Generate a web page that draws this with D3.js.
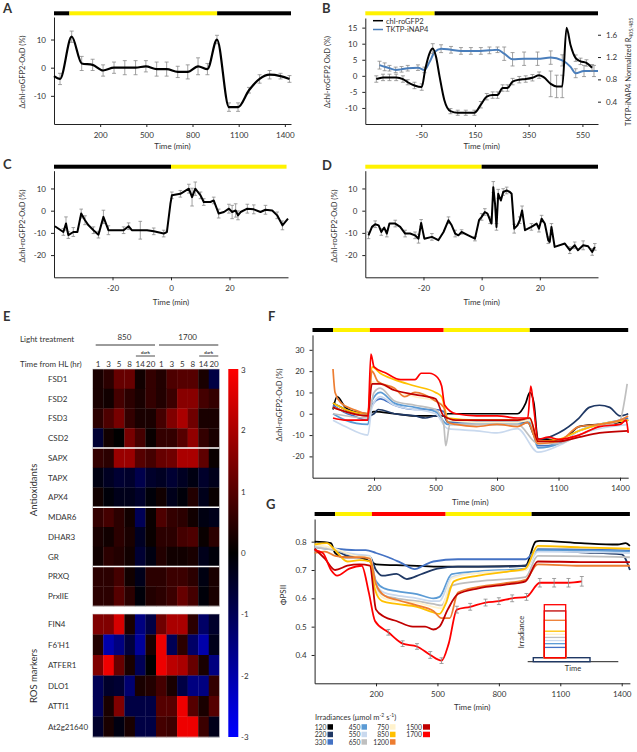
<!DOCTYPE html>
<html><head><meta charset="utf-8">
<script src="https://cdn.jsdelivr.net/npm/d3@7"></script>
<style>
body{margin:0;background:#fff}
text{font-family:Lato,"Open Sans","Liberation Sans",sans-serif;fill:#333}
</style></head>
<body><svg id="c" width="637" height="752"></svg>
<script>
// ---------------- DATA ----------------
// light schedules: [start, end, kind]  k=dark, y=light, r=high light
const lightA = [[-100,0,"k"],[0,960,"y"],[960,1440,"k"]];
const lightB = [[-258,0,"y"],[0,608,"k"]];
const lightC = [[-40,0,"k"],[0,39.5,"y"]];
const lightD = [[-40,0,"y"],[0,40,"k"]];
const lightFG = [[-100,0,"k"],[0,180,"y"],[180,540,"r"],[540,960,"y"],[960,1440,"k"]];

// Panel A
const aTime = [-100,-61,15,80,151,219,290,360,430,497,567,632,704,769,836,897,959,1037,1096,1167,1236,1301,1372,1430];
const aVal  = [-3,-4,11,1.5,1,-1,0,0,0,0.5,-0.5,-0.5,-1.5,-1.5,0.5,-0.5,10,-14,-14,-8,-4,-2.5,-3,-4];
const aErr  = [0,2,2,2.5,2,2,2,2.5,2.5,2,2.5,2.5,2,2.5,3,2,1.5,1.5,1.5,1,1.5,1.5,1,1.2];

// Panel B – chl-roGFP2 (left axis)
const bTime = [-217,-192,-168,-143,-118,-100,-75,-48,-35,-19,-7,5,18,36,59,86,116,148,172,194,216,234,253,271,290,315,339,364,389,407,432,454,475,491,506,525,543,565,586];
const bVal  = [-1,-0.5,-0.5,-0.5,-1,-2,-3,-3.5,2,7,8.5,6,0,-7.5,-11,-11.5,-11.5,-11.5,-9,-6.5,-6,-6,-3.8,-3.8,-1.8,-1.2,-1,-0.6,0.2,-0.5,-2.5,-3.3,-3.3,15,9.5,5.5,4.5,4,2.5];
const bErr  = [1,1,1,1,1,0.8,1,1,0,0,1.5,0,0,0,0.8,0.8,0.8,0.8,1,1,1,1,1,1,1,1,1,1,1,0,4,3.5,3.5,0,0,1,1,1,1];
// Panel B – TKTP-iNAP4 (right axis)
const nTime = [-205,-186,-168,-145,-123,-100,-62,-38,-19,0,24,61,98,135,172,204,234,259,290,333,383,432,475,506,525,556,593,608];
const nVal  = [1.055,1.025,1.0,0.97,0.98,1.0,1.01,0.97,1.11,1.29,1.35,1.33,1.31,1.31,1.31,1.32,1.33,1.26,1.16,1.17,1.17,1.19,1.14,1.025,0.91,0.95,0.95,0.95];
const nErr  = [0.07,0.07,0.05,0.05,0.05,0.05,0.05,0.05,0,0,0.07,0.06,0.06,0.06,0.06,0.06,0.05,0.12,0.12,0.12,0.12,0.12,0.1,0,0.08,0.1,0.1,0];

// Panel C
const cTime = [-39.7,-36.8,-35.9,-35.1,-33.4,-32,-30.7,-29.4,-28.2,-26.5,-24.8,-23.1,-21.4,-19.7,-16.2,-14.5,-13.4,-10.5,-8.2,-5.9,-2.5,-1.4,-0.2,0.3,3.2,6.1,7.2,8.3,10.1,11.2,13.5,14.6,16.3,18.1,19.8,20.9,22.1,22.9,23.8,26.1,28.3,30.6,32.3,34.6,36.3,38.1,40];
const cVal  = [-7,-9.6,-5.8,-11,-9.6,-9.6,-1.3,-4.3,-6.6,-8.8,-10.8,-2.8,-8.8,-8.8,-8.8,-7,-8.8,-8.8,-8.8,-9.3,-10.3,-9.6,3.1,6.9,7.6,9.9,6.1,9.9,6.9,3.9,3.9,4.6,-1.3,-0.6,0.9,-0.6,0.1,-2.1,-0.6,0.9,0.6,-0.6,0.4,0.1,-2.1,-6.6,-3.6];
const cErr  = [0,1.5,3,1.5,2,0,2,2,0,1.5,1.5,3,2,0,1.5,1.5,0,4,0,1.5,1.5,0,0,1.5,1.5,2,4,3,1.5,1.5,0,1.5,2,0,2,3,3,2,0,2,2,0,2,0,1.5,2,0];

// Panel D
const dTime = [-38.9,-37.7,-36.6,-35.4,-34.5,-33.5,-32.6,-31.7,-29.7,-28,-26.3,-24.6,-22.9,-21.7,-20.8,-19.7,-17.1,-14.9,-13.1,-11.4,-10.3,-9.1,-8,-6.9,-4.6,-2.3,-0.9,0,1.1,2,2.9,3.4,4,4.6,5.1,5.7,6.6,7.4,8.6,9.7,10.3,11.2,12.3,13.1,13.9,14.9,17.1,18.9,19.7,20.6,21.7,22.9,23.4,24,25.1,28.6,30.3,32,33.1,34.9,36.6,38,38.9];
const dVal  = [-11.1,-7.3,-6.1,-6.6,-9.6,-7.6,-10.3,-5.8,-5.8,-7.3,-10.3,-10.3,-11.1,-12.6,-5.5,-12.6,-11.8,-13.3,-9.6,-4.3,-6.6,-10.3,-11.1,-9.6,-11.1,-12.6,-4.3,-2.8,-0.6,-1.3,-4.3,-5.8,10.6,3.1,-7.3,7.6,4.6,8.4,9.1,8.4,7.6,-8.1,-6.6,-4.3,0.1,-8.8,-7.3,-5.8,-8.1,-3.6,-5.8,-13.3,-14.1,-7.3,-16.3,-14.8,-17.8,-15.6,-17.8,-15.6,-16,-18.6,-16.3];
const dErr  = [1.5,0,1.5,0,1.5,0,1.5,0,1.5,0,1.5,0,1.5,2,1.5,0,1.5,0,0,1.5,0,1.5,0,1,0,1,0,1.5,1.5,0,1.5,0,2.5,0,1.5,2,0,1.5,1.5,0,0,2,0,1.5,2,0,1.5,0,1.5,1.5,0,1.5,0,1.5,0,0,1.5,1.5,0,2,0,1.5,1.5];

// Panel E heatmap (log2 fold change)
const hlLevels  = ["850","1700"];
const hlHours   = ["1","3","5","8","14","20","1","3","5","8","14","20"];
const antioxGenes = ["FSD1","FSD2","FSD3","CSD2","SAPX","TAPX","APX4","MDAR6","DHAR3","GR","PRXQ","PrxIIE"];
const antioxVals = [
 [0.3,0.5,1.2,1.2,0.2,0.6,0.4,0.9,1.0,1.0,0.3,-0.8],
 [0.3,0.2,0.8,0.5,0.3,0.6,0.4,0.7,1.6,1.6,0.8,0.6],
 [0.5,0.9,1.4,0.6,0.3,0.3,0.8,1.5,2.0,1.3,0.3,0.3],
 [-0.6,0.2,0.0,1.4,0.8,0.1,0.6,0.6,1.0,1.7,0.6,0.3],
 [0.6,0.5,1.8,1.8,1.0,0.8,1.2,1.3,2.0,2.0,1.1,0.1],
 [-0.2,-0.4,-0.6,-0.5,-0.9,-0.5,-0.4,-0.6,-0.4,-0.2,-0.5,-0.3],
 [0.2,-0.1,-0.3,-0.3,-0.5,-0.1,0.2,-0.3,-0.1,0.4,-0.3,0.1],
 [0.6,0.8,0.5,0.2,-1.0,0.1,0.9,0.6,0.5,0.2,-0.2,-0.3],
 [0.3,0.2,0.5,0.3,-0.4,0.1,0.5,0.5,0.8,0.9,0.1,0.5],
 [0.2,0.5,0.4,0.2,-0.6,-0.2,0.4,0.2,0.2,0.3,-0.3,-0.1],
 [0.5,0.5,0.8,0.2,-0.3,0.5,0.5,0.7,0.7,0.5,-0.2,0.3],
 [0.5,0.5,1.0,0.5,-0.1,0.4,0.5,0.7,1.2,0.8,-0.1,0.3]];
const rosGenes = ["FIN4","F6'H1","ATFER1","DLO1","ATTI1","At2g21640"];
const rosVals = [
 [1.5,1.5,2.5,0.3,-1.5,-0.8,1.3,2.0,2.0,0.5,-1.2,-0.5],
 [0.4,-2.0,-1.5,-0.7,-1.8,0.3,2.8,-1.0,0.5,-1.2,-2.0,-0.3],
 [1.5,2.8,1.2,0.3,-1.0,0.0,2.8,2.2,2.0,1.2,0.3,-1.5],
 [-1.0,-0.5,-0.6,-1.3,0.3,0.4,0.8,0.3,-0.8,-1.5,-1.5,0.6],
 [-1.0,0.3,1.5,-0.8,-0.8,-0.8,1.0,1.0,2.8,1.0,0.3,1.0],
 [-0.5,0.3,-0.2,0.3,-0.8,-0.8,0.8,0.7,2.8,2.8,0.7,-0.3]];
const cbTicks = [3,2,1,0,-1,-2,-3];

// Panels F & G: irradiances and colours
const irradiances = [120,220,330,450,550,650,750,850,1200,1500,1700];
const irrColors   = ["#000000","#1f3864","#4472c4","#5b9bd5","#c9d9ee","#bfbfbf","#fff2cc","#ffc000","#ed7d31","#c00000","#ff0000"];

// Panel F: [time, ΔOxD]
const f120  = [[0,2],[20,8],[60,3],[100,1],[170,0],[200,1],[300,0],[400,-1],[500,-1],[540,-1],[560,0],[700,0],[800,0],[900,0],[940,5],[960,10],[980,5],[1000,-12],[1050,-12],[1100,-13],[1150,-10],[1200,-6],[1300,-5],[1400,-4],[1440,-3]];
const f220  = [[0,5],[40,3],[100,0],[170,-1],[200,0],[220,2],[300,0],[400,-1],[450,-2],[500,-1],[540,-1],[560,-4],[700,-4],[800,-4],[900,-4],[950,-4],[980,-10],[1000,-12],[1100,-9],[1200,-2],[1250,3],[1300,4],[1350,3],[1400,-1],[1440,0]];
const f330  = [[0,4],[50,1],[100,-1],[170,-3],[190,4],[230,7],[300,4],[400,2],[500,2],[540,1],[560,-4],[700,-4],[900,-4],[960,-3],[1000,-15],[1050,-15],[1100,-13],[1200,-8],[1300,-5],[1400,-3],[1440,-2]];
const f450  = [[0,0],[60,-3],[170,-5],[190,6],[230,10],[300,5],[400,3],[500,1],[560,-5],[700,-5],[900,-5],[960,-4],[1000,-16],[1100,-14],[1200,-8],[1300,-5],[1440,-3]];
const f550  = [[0,-3],[60,-6],[170,-10],[190,3],[230,8],[300,4],[500,0],[560,-7],[700,-8],[800,-9],[900,-7],[1000,-18],[1100,-15],[1200,-10],[1440,-5]];
const f650  = [[0,0],[170,-2],[200,10],[230,12],[300,6],[400,4],[500,2],[540,-5],[550,-15],[570,-5],[700,-5],[900,-5],[1000,-14],[1100,-14],[1200,-10],[1300,-6],[1400,-3],[1420,5],[1435,14]];
const f750  = [[0,3],[60,1],[170,-1],[190,15],[230,14],[300,11],[400,8],[500,6],[540,4],[560,-3],[700,-4],[900,-4],[960,-3],[1000,-14],[1100,-13],[1200,-8],[1300,-5],[1440,-3]];
const f850  = [[0,5],[60,2],[170,0],[190,22],[230,19],[300,16],[400,13],[500,10],[530,8],[560,-2],[700,-3],[900,-3],[960,-2],[1000,-13],[1100,-12],[1200,-8],[1300,-5],[1440,-3]];
const f1200 = [[0,21],[10,10],[40,5],[100,2],[170,0],[190,20],[220,15],[300,12],[350,8],[400,10],[500,6],[540,3],[560,-4],[600,-5],[700,-6],[800,-5],[900,-6],[950,-4],[1000,-14],[1100,-13],[1200,-6],[1300,-5],[1400,-3],[1440,-1]];
const f1500 = [[0,3],[60,1],[170,-1],[190,14],[230,14],[300,11],[400,9],[500,7],[540,-1],[600,-3],[700,-3],[900,-3],[960,-2],[1000,-13],[1100,-13],[1200,-11],[1300,-9],[1440,-8]];
const f1700 = [[0,-2],[60,-3],[170,-3],[185,28],[200,22],[260,19],[330,16],[400,16],[430,19],[470,19],[510,17],[530,13],[545,4],[600,0],[700,-1],[800,-1],[900,-2],[950,-2],[965,13],[980,2],[1000,-12],[1050,-11],[1100,-12],[1200,-10],[1300,-6],[1400,-5],[1430,-3],[1440,-9]];
const fSeries = [f120,f220,f330,f450,f550,f650,f750,f850,f1200,f1500,f1700];

// Panel G: [time, ΦPSII]
const g120  = [[-100,0.80],[-20,0.795],[0,0.76],[40,0.745],[120,0.745],[170,0.73],[200,0.72],[350,0.716],[500,0.712],[700,0.712],[930,0.715],[980,0.80],[1000,0.803],[1200,0.795],[1380,0.79],[1420,0.795],[1440,0.785]];
const g220  = [[-100,0.785],[0,0.77],[60,0.75],[120,0.745],[170,0.745],[200,0.70],[230,0.68],[300,0.686],[350,0.668],[420,0.685],[500,0.705],[600,0.712],[800,0.712],[930,0.715],[990,0.77],[1200,0.762],[1400,0.755],[1440,0.70]];
const g330  = [[-100,0.786],[0,0.775],[100,0.77],[150,0.77],[200,0.76],[260,0.745],[320,0.726],[390,0.703],[430,0.715],[480,0.73],[600,0.738],[800,0.738],[930,0.738],[990,0.775],[1440,0.77]];
const g450  = [[-100,0.78],[0,0.77],[100,0.75],[170,0.745],[200,0.66],[240,0.635],[300,0.625],[400,0.615],[480,0.60],[510,0.605],[570,0.685],[700,0.695],[930,0.705],[990,0.77],[1440,0.765]];
const g550  = [[-100,0.785],[0,0.77],[100,0.755],[170,0.75],[200,0.65],[240,0.62],[300,0.61],[400,0.60],[480,0.59],[510,0.59],[570,0.675],[700,0.69],[930,0.70],[990,0.765],[1440,0.76]];
const g650  = [[-100,0.78],[0,0.77],[100,0.75],[170,0.745],[200,0.64],[240,0.61],[300,0.60],[400,0.59],[480,0.58],[520,0.575],[570,0.645],[700,0.66],[930,0.675],[990,0.75],[1440,0.745]];
const g750  = [[-100,0.79],[0,0.775],[100,0.75],[170,0.745],[200,0.63],[240,0.60],[300,0.59],[400,0.585],[480,0.57],[520,0.565],[570,0.67],[700,0.69],[930,0.70],[990,0.78],[1440,0.775]];
const g850  = [[-100,0.79],[-40,0.795],[0,0.77],[60,0.73],[120,0.735],[170,0.73],[195,0.63],[230,0.59],[300,0.58],[400,0.57],[480,0.55],[510,0.545],[540,0.58],[580,0.66],[700,0.68],[850,0.695],[930,0.705],[990,0.785],[1200,0.78],[1440,0.775]];
const g1200 = [[-100,0.76],[-50,0.765],[0,0.75],[60,0.745],[120,0.745],[170,0.74],[200,0.65],[240,0.61],[300,0.595],[400,0.575],[480,0.555],[520,0.53],[560,0.53],[600,0.62],[700,0.64],[850,0.655],[930,0.665],[990,0.72],[1200,0.715],[1440,0.715]];
const g1500 = [[-100,0.775],[-50,0.74],[0,0.70],[60,0.715],[120,0.72],[170,0.715],[200,0.56],[240,0.535],[300,0.52],[380,0.50],[440,0.50],[480,0.49],[510,0.50],[550,0.56],[600,0.615],[700,0.635],[850,0.65],[930,0.66],[990,0.73],[1200,0.728],[1440,0.728]];
const g1700 = [[-100,0.77],[-60,0.76],[-20,0.70],[10,0.68],[70,0.705],[130,0.715],[165,0.62],[195,0.52],[260,0.48],[330,0.44],[400,0.43],[465,0.40],[520,0.38],[555,0.44],[595,0.56],[660,0.57],[735,0.585],[800,0.59],[865,0.60],[935,0.605],[1000,0.655],[1070,0.655],[1140,0.655],[1205,0.66]];
const g1700Err = [0,0,0,0,0,0,0,0,0.01,0.01,0.01,0.012,0.01,0,0.012,0.012,0.012,0.012,0.012,0.012,0.015,0.015,0.015,0.017];
const gSeries = [g120,g220,g330,g450,g550,g650,g750,g850,g1200,g1500,g1700];

// ---------------- DRAWING ----------------
const svg = d3.select("#c");
svg.append("rect").attr("width",637).attr("height",752).attr("fill","#fff");
const lightColor = {k:"#000000", y:"#fff200", r:"#ff0000"};
const fmt = d => String(d);

function styleAxis(g){
  g.select(".domain").attr("stroke","#222").attr("stroke-width",1);
  g.selectAll(".tick line").attr("stroke","#222");
  g.selectAll(".tick text").attr("font-size",8).attr("fill","#333")
    .attr("font-family","Lato,'Open Sans',sans-serif");
}

function panel(c){
  const x = d3.scaleLinear().domain(c.xd).range([c.x0,c.x1]);
  const y = d3.scaleLinear().domain(c.yd).range([c.yb,c.yt]);
  const g = svg.append("g");
  c.light.forEach(s=>{
    g.append("rect").attr("x",x(s[0])).attr("width",x(s[1])-x(s[0]))
      .attr("y",c.barY-2).attr("height",4).attr("fill",lightColor[s[2]]);
  });
  g.append("g").attr("transform",`translate(0,${c.yb})`)
    .call(d3.axisBottom(x).tickValues(c.xt).tickFormat(fmt).tickSize(3).tickSizeOuter(0).tickPadding(5))
    .call(styleAxis);
  g.append("g").attr("transform",`translate(${c.x0},0)`)
    .call(d3.axisLeft(y).tickValues(c.yt_).tickFormat(c.yfmt||fmt).tickSize(3).tickSizeOuter(0).tickPadding(5))
    .call(styleAxis);
  g.append("text").attr("x",(c.x0+c.x1)/2).attr("y",c.xlY).attr("text-anchor","middle")
    .attr("font-size",8).text("Time (min)");
  g.append("text").attr("transform",`translate(${c.ylX},${c.ylY}) rotate(-90)`)
    .attr("text-anchor","middle").attr("font-size",c.ylSize||7.5).text(c.ylabel);
  return {x,y,g};
}

function errBars(g,x,y,ts,vs,es,col,cap){
  ts.forEach((t,i)=>{
    const e = es[i]; if(!e) return;
    const px = x(t), y1 = y(vs[i]-e), y2 = y(vs[i]+e);
    g.append("line").attr("x1",px).attr("x2",px).attr("y1",y1).attr("y2",y2).attr("stroke",col).attr("stroke-width",0.8);
    [y1,y2].forEach(yy=>g.append("line").attr("x1",px-cap).attr("x2",px+cap).attr("y1",yy).attr("y2",yy).attr("stroke",col).attr("stroke-width",0.8));
  });
}
function drawLine(g,x,y,ts,vs,col,w,curve){
  g.append("path").datum(ts.map((t,i)=>[t,vs[i]]))
    .attr("d",d3.line().x(d=>x(d[0])).y(d=>y(d[1])).curve(curve||d3.curveMonotoneX))
    .attr("fill","none").attr("stroke",col).attr("stroke-width",w).attr("stroke-linejoin","round");
}
function panelLabel(t,x,y){
  svg.append("text").attr("x",x).attr("y",y).attr("font-size",13).attr("font-weight","bold")
    .attr("font-family","'Liberation Sans',Arial,sans-serif").attr("fill","#000").text(t);
}

// ----- A -----
panelLabel("A",3,13);
const A = panel({xd:[-100,1440],x0:54,x1:291,yd:[-20,18],yb:124,yt:17,barY:13.3,light:lightA,
  xt:[200,500,800,1100,1400],yt_:[-10,0,10],xlY:149,ylX:25,ylY:72,ylabel:"Δchl-roGFP2-OxD (%)"});
errBars(A.g,A.x,A.y,aTime,aVal,aErr,"#8a8a8a",2);
drawLine(A.g,A.x,A.y,aTime,aVal,"#000",2.2);

// ----- B -----
panelLabel("B",322,13);
const B = panel({xd:[-258,608],x0:365.3,x1:598,yd:[-15,18],yb:124,yt:18,barY:13.3,light:lightB,
  xt:[-50,150,350,550],yt_:[-10,-5,0,5,10,15],xlY:149,ylX:330,ylY:72,ylabel:"Δchl-roGFP2 OxD (%)"});
const yR = d3.scaleLinear().domain([0,1.9]).range([124,18]);
const axR = B.g.append("g").attr("transform","translate(598,0)")
  .call(d3.axisRight(yR).tickValues([0.4,0.8,1.2,1.6]).tickFormat(d3.format(".1f")).tickSize(3).tickSizeOuter(0).tickPadding(5))
  .call(styleAxis);
axR.select(".domain").attr("stroke","none");
const rl = B.g.append("text").attr("transform","translate(631,72) rotate(-90)").attr("text-anchor","middle").attr("font-size",7.5);
rl.append("tspan").text("TKTP-iNAP4 Normalized R");
rl.append("tspan").attr("font-size",5).attr("dy",2).text("405/485");
errBars(B.g,B.x,yR,nTime,nVal,nErr,"#8a8a8a",2);
drawLine(B.g,B.x,yR,nTime,nVal,"#4a7ebb",2);
errBars(B.g,B.x,B.y,bTime,bVal,bErr,"#8a8a8a",2);
drawLine(B.g,B.x,B.y,bTime,bVal,"#000",2);
B.g.append("line").attr("x1",373).attr("x2",383).attr("y1",20.7).attr("y2",20.7).attr("stroke","#000").attr("stroke-width",1.5);
B.g.append("text").attr("x",386).attr("y",23.5).attr("font-size",7.5).text("chl-roGFP2");
B.g.append("line").attr("x1",373).attr("x2",383).attr("y1",29.5).attr("y2",29.5).attr("stroke","#4a7ebb").attr("stroke-width",1.5);
B.g.append("text").attr("x",386).attr("y",32.3).attr("font-size",7.5).text("TKTP-iNAP4");

// ----- C -----
panelLabel("C",3,169);
const C = panel({xd:[-40,40],x0:54,x1:288,yd:[-30,18],yb:277.3,yt:170.7,barY:166.7,light:lightC,
  xt:[-20,0,20],yt_:[-20,-10,0,10],xlY:305,ylX:25,ylY:226,ylabel:"Δchl-roGFP2-OxD (%)"});
errBars(C.g,C.x,C.y,cTime,cVal,cErr,"#8a8a8a",1.8);
drawLine(C.g,C.x,C.y,cTime,cVal,"#000",2,d3.curveLinear);

// ----- D -----
panelLabel("D",322,170);
const D = panel({xd:[-40,40],x0:365.3,x1:598,yd:[-30,18],yb:277.3,yt:170.7,barY:166.7,light:lightD,
  xt:[-20,0,20],yt_:[-20,-10,0,10],xlY:305,ylX:337,ylY:226,ylabel:"Δchl-roGFP2-OxD (%)"});
errBars(D.g,D.x,D.y,dTime,dVal,dErr,"#8a8a8a",1.8);
drawLine(D.g,D.x,D.y,dTime,dVal,"#000",2,d3.curveLinear);

// ----- E heatmap -----
panelLabel("E",3,321);
const hmColor = d3.scaleLinear().domain([-3,0,3]).range(["#0000ff","#000000","#ff0000"]).clamp(true);
const colX = d3.scaleBand().domain(d3.range(12)).range([92.7,219.3]);
const rowA = d3.scaleBand().domain(d3.range(antioxGenes.length)).range([369,606]);
const rowR = d3.scaleBand().domain(d3.range(rosGenes.length)).range([614,737]);
const E = svg.append("g");
function heat(vals,genes,rowS){
  vals.forEach((row,i)=>row.forEach((v,j)=>{
    E.append("rect").attr("x",colX(j)).attr("y",rowS(i)).attr("width",colX.bandwidth()+0.3)
      .attr("height",rowS.bandwidth()+0.3).attr("fill",hmColor(v));
  }));
  genes.forEach((gname,i)=>E.append("text").attr("x",48).attr("y",rowS(i)+rowS.bandwidth()/2+3)
    .attr("font-size",8).text(gname));
}
heat(antioxVals,antioxGenes,rowA);
heat(rosVals,rosGenes,rowR);
[4,7,10].forEach(k=>E.append("line").attr("x1",92.7).attr("x2",219.3).attr("y1",rowA(k)).attr("y2",rowA(k))
  .attr("stroke","#fff").attr("stroke-width",1.6));
E.append("rect").attr("x",92.7).attr("y",369).attr("width",126.6).attr("height",237).attr("fill","none").attr("stroke","#ddd").attr("stroke-width",0.6);
E.append("rect").attr("x",92.7).attr("y",614).attr("width",126.6).attr("height",123).attr("fill","none").attr("stroke","#ddd").attr("stroke-width",0.6);
E.append("text").attr("transform","translate(37,490) rotate(-90)").attr("text-anchor","middle").attr("font-size",9.5).text("Antioxidants");
E.append("text").attr("transform","translate(37,676) rotate(-90)").attr("text-anchor","middle").attr("font-size",9.5).text("ROS markers");
// header
E.append("text").attr("x",20).attr("y",342).attr("font-size",8).text("Light treatment");
E.append("text").attr("x",20).attr("y",367).attr("font-size",8).text("Time from HL (hr)");
hlLevels.forEach((lv,k)=>{
  const xa = colX(k*6), xb = colX(k*6+5)+colX.bandwidth();
  E.append("text").attr("x",(xa+xb)/2).attr("y",340).attr("text-anchor","middle").attr("font-size",8).text(lv);
  E.append("line").attr("x1",xa+3).attr("x2",xb-1).attr("y1",345).attr("y2",345).attr("stroke","#222").attr("stroke-width",0.9);
  const da = colX(k*6+4), db = colX(k*6+5)+colX.bandwidth();
  E.append("text").attr("x",(da+db)/2).attr("y",353.5).attr("text-anchor","middle").attr("font-size",4.5).attr("font-weight","bold").text("dark");
  E.append("line").attr("x1",da+1).attr("x2",db-1).attr("y1",356).attr("y2",356).attr("stroke","#222").attr("stroke-width",0.8);
});
hlHours.forEach((h,j)=>E.append("text").attr("x",colX(j)+colX.bandwidth()/2).attr("y",367)
  .attr("text-anchor","middle").attr("font-size",8).text(h));
// colour bar
const cbY = d3.scaleLinear().domain([3,-3]).range([369,737]);
const grad = svg.append("defs").append("linearGradient").attr("id","cb").attr("x1",0).attr("x2",0).attr("y1",0).attr("y2",1);
d3.range(3,-3.01,-0.5).forEach(v=>grad.append("stop").attr("offset",(3-v)/6).attr("stop-color",hmColor(v)));
E.append("rect").attr("x",228.3).attr("y",369).attr("width",10).attr("height",368).attr("fill","url(#cb)");
cbTicks.forEach(v=>E.append("text").attr("x",241).attr("y",Math.min(Math.max(cbY(v)+3,373),740)).attr("font-size",8).text(v));

// ----- F -----
panelLabel("F",268,321);
const F = panel({xd:[-100,1440],x0:312.5,x1:628.2,yd:[-30,37],yb:477.7,yt:334.9,barY:330,light:lightFG,
  xt:[200,500,800,1100,1400],yt_:[-20,-10,0,10,20,30],xlY:505,ylX:282,ylY:405,ylabel:"Δchl-roGFP2-OxD (%)"});
fSeries.forEach((s,i)=>drawLine(F.g,F.x,F.y,s.map(d=>d[0]),s.map(d=>d[1]),irrColors[i],1.7,d3.curveMonotoneX));

// ----- G -----
panelLabel("G",266,509);
const G = panel({xd:[-100,1440],x0:314.6,x1:629.9,yd:[0.3,0.88],yb:683.3,yt:519,barY:514,light:lightFG,
  xt:[200,500,800,1100,1400],yt_:[0.4,0.5,0.6,0.7,0.8],yfmt:d3.format(".1f"),xlY:710,ylX:286,ylY:595,ylabel:"ΦPSII",ylSize:8});
gSeries.forEach((s,i)=>drawLine(G.g,G.x,G.y,s.map(d=>d[0]),s.map(d=>d[1]),irrColors[i],1.8,d3.curveMonotoneX));
errBars(G.g,G.x,G.y,g1700.map(d=>d[0]),g1700.map(d=>d[1]),g1700Err,"#8a8a8a",2);
// inset
const hS = d3.scaleLinear().domain([0,1700]).range([0,53]);
const Gi = G.g.append("g");
Gi.append("line").attr("x1",527.7).attr("x2",618.3).attr("y1",661.7).attr("y2",661.7).attr("stroke","#222").attr("stroke-width",1);
Gi.append("rect").attr("x",533.3).attr("y",657.7).attr("width",56.7).attr("height",4).attr("fill","#fff").attr("stroke",irrColors[1]).attr("stroke-width",1.4);
irradiances.forEach((ir,i)=>{ if(ir<330) return;
  Gi.append("rect").attr("x",544.3).attr("y",657.7-hS(ir)).attr("width",21.4).attr("height",hS(ir))
    .attr("fill","none").attr("stroke",irrColors[i]).attr("stroke-width",1.3);
});
Gi.append("text").attr("transform","translate(524,632) rotate(-90)").attr("text-anchor","middle").attr("font-size",7.5).text("Irradiance");
Gi.append("text").attr("x",573).attr("y",671).attr("text-anchor","middle").attr("font-size",7.5).text("Time");
// legend
const L = svg.append("g");
const lt = L.append("text").attr("x",315).attr("y",719.5).attr("font-size",7.5);
lt.append("tspan").text("Irradiances (μmol m");
lt.append("tspan").attr("font-size",5).attr("dy",-3).text("-2");
lt.append("tspan").attr("dy",3).text(" s");
lt.append("tspan").attr("font-size",5).attr("dy",-3).text("-1");
lt.append("tspan").attr("dy",3).text(")");
const legSw = [327.5,361.5,390,423], legRows = [729.5,737,744.5];
irradiances.forEach((ir,i)=>{
  const col = Math.floor(i/3), row = i%3;
  L.append("text").attr("x",legSw[col]-1).attr("y",legRows[row]).attr("text-anchor","end").attr("font-size",6.8).text(ir);
  L.append("rect").attr("x",legSw[col]).attr("y",legRows[row]-5.3).attr("width",col===3?7:5.5).attr("height",5.5).attr("fill",irrColors[i]);
});
</script></body></html>
